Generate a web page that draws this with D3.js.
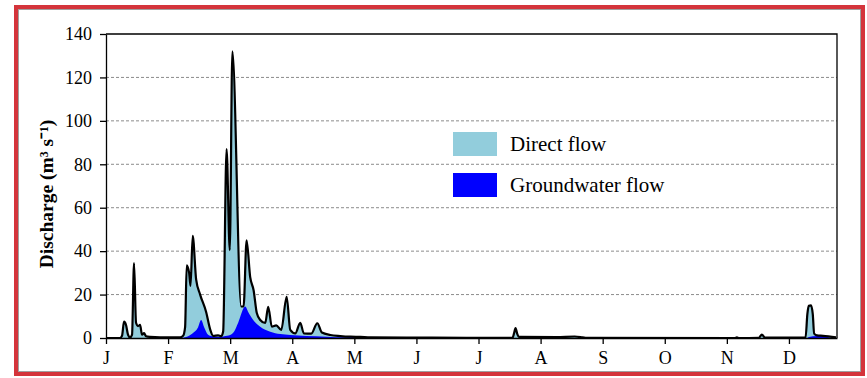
<!DOCTYPE html>
<html>
<head>
<meta charset="utf-8">
<script src="https://cdn.jsdelivr.net/npm/d3@7"></script>
<style>
  html, body { margin: 0; padding: 0; background: #fff; }
  svg { display: block; }
</style>
</head>
<body>
<svg id="chart" width="867" height="378"></svg>
<script>
// ---- Data ----
const monthLabels = ["J","F","M","A","M","J","J","A","S","O","N","D"];
const monthTickDays = [0,31,62,93,124,155,186,217,248,279,310,341];
const yTickValues = [0,20,40,60,80,100,120,140];

// Total discharge (direct + groundwater), day of year vs m3/s
const totalDays = [0,7,8,9,10,11,12,13,14,15,16,17,18,19,20,22,27,37,38.5,39.5,40.3,41.5,42.2,43.3,45,47,50,52,53.5,56,57.5,58.5,60.2,61.8,63.1,67.5,68.7,70.2,72,73.7,75.3,77,79.5,81,82.8,85,87.5,90.2,92,94.5,97,98.8,102.5,105.5,107.8,112,117,122,127,132,150,180,203,203.7,204.5,205.3,206.3,225,234,238,240,314,315,316,326,327.5,329,349.3,350.2,350.9,352,352.9,353.6,355,358,364.5];
const totalFlow = [0,0,1,7.5,6,1.5,0.3,1.5,34.5,7,5.5,6,1.5,2.2,0.8,0.5,0.3,0.3,1,5,33.5,30,24,47,27,20,12,4,1,1.2,0.8,3,87,40.5,132,14.5,14.5,45,28,22,11.5,8.3,6.9,14.4,5.2,5.8,3.7,19,3.7,2.1,7,2.1,2,6.8,2.5,1.4,0.9,0.6,0.5,0.3,0.2,0.1,0.1,2,4.6,2,0.5,0.4,0.7,0.3,0.05,0,0.3,0,0.1,1.6,0.2,0.2,11,14.8,15,11,2,1.2,1,0.3];

// Groundwater flow
const gwDays = [0,37,40,43,46,47.5,49,51,53,57,59,62,64,66,69.5,71,73.5,77,82,87,92,100,110,120,123,126,130,150,200,350,351,355,359,362,365];
const gwFlow = [0,0,0.5,2,5,8.3,5,1.5,0.8,0.5,0.8,1.4,3,7,14.5,12,8.3,5.2,2.9,1.8,1.4,0.9,0.6,0.3,0.6,0.3,0.2,0.05,0,0,0.5,0.9,0.8,0.1,0];

const seriesNames = ["Direct flow","Groundwater flow"];
const seriesColors = ["#92cddc","#0000ff"];

// ---- Drawing ----
const svg = d3.select("#chart");
const margin = {left:106, right:837, top:34, bottom:338};
const x = d3.scaleLinear().domain([0,365]).range([margin.left, margin.right]);
const y = d3.scaleLinear().domain([0,140]).range([margin.bottom, margin.top]);
const serif = "'Liberation Serif','Times New Roman',serif";

// outer frame
svg.append("rect").attr("x",16).attr("y",7).attr("width",847).attr("height",367)
  .attr("fill","#fff").attr("stroke","#d4343b").attr("stroke-width",4);
svg.append("rect").attr("x",18.5).attr("y",9.5).attr("width",842).attr("height",362)
  .attr("fill","none").attr("stroke","#a0a0a0").attr("stroke-width",1);

// gridlines
svg.append("g").selectAll("line").data(yTickValues.filter(v => v>0 && v<140)).join("line")
  .attr("x1",x(0)).attr("x2",x(365)).attr("y1",d=>y(d)).attr("y2",d=>y(d))
  .attr("stroke","#8c8c8c").attr("stroke-width",1).attr("stroke-dasharray","3,2");

const totalData = totalDays.map((d,i)=>({d, v:totalFlow[i]}));
const gwData = gwDays.map((d,i)=>({d, v:gwFlow[i]}));
const curve = d3.curveMonotoneX;

svg.append("path").datum(totalData)
  .attr("d", d3.area().x(p=>x(p.d)).y0(y(0)).y1(p=>y(p.v)).curve(curve))
  .attr("fill", seriesColors[0]);
svg.append("path").datum(gwData)
  .attr("d", d3.area().x(p=>x(p.d)).y0(y(0)).y1(p=>y(p.v)).curve(curve))
  .attr("fill", seriesColors[1]);
svg.append("path").datum(totalData)
  .attr("d", d3.line().x(p=>x(p.d)).y(p=>y(p.v)).curve(curve))
  .attr("fill","none").attr("stroke","#000").attr("stroke-width",2.2).attr("stroke-linejoin","round");

// plot frame (top & right)
svg.append("path")
  .attr("d", `M${x(0)},${y(140)}H${x(365)}V${y(0)}`)
  .attr("fill","none").attr("stroke","#000").attr("stroke-width",1.3);

// axes
const yAxis = svg.append("g").attr("transform",`translate(${x(0)},0)`)
  .call(d3.axisLeft(y).tickValues(yTickValues).tickSize(6).tickSizeOuter(0).tickPadding(8));
const xAxis = svg.append("g").attr("transform",`translate(0,${y(0)})`)
  .call(d3.axisBottom(x).tickValues(monthTickDays).tickFormat((d,i)=>monthLabels[i])
    .tickSize(6).tickSizeOuter(0).tickPadding(7));
[yAxis,xAxis].forEach(g=>{
  g.attr("font-family",serif).attr("font-size",18);
  g.selectAll("path,line").attr("stroke","#000").attr("stroke-width",1.3);
  g.selectAll("text").attr("font-family",serif).attr("font-size",18).attr("fill","#000");
});

// y title
svg.append("text")
  .attr("transform","translate(46,194) rotate(-90)")
  .attr("text-anchor","middle").attr("dominant-baseline","central")
  .attr("font-family",serif).attr("font-size",19.5).attr("font-weight","bold")
  .text("Discharge (m\u00B3 s\u207B\u00B9)");

// legend
const leg = svg.append("g");
seriesNames.forEach((name,i)=>{
  const ly = 132 + i*41;
  leg.append("rect").attr("x",453).attr("y",ly).attr("width",44).attr("height",24)
    .attr("fill",seriesColors[i]);
  leg.append("text").attr("x",510).attr("y",ly+19)
    .attr("font-family",serif).attr("font-size",21).text(name);
});
</script>
</body>
</html>
